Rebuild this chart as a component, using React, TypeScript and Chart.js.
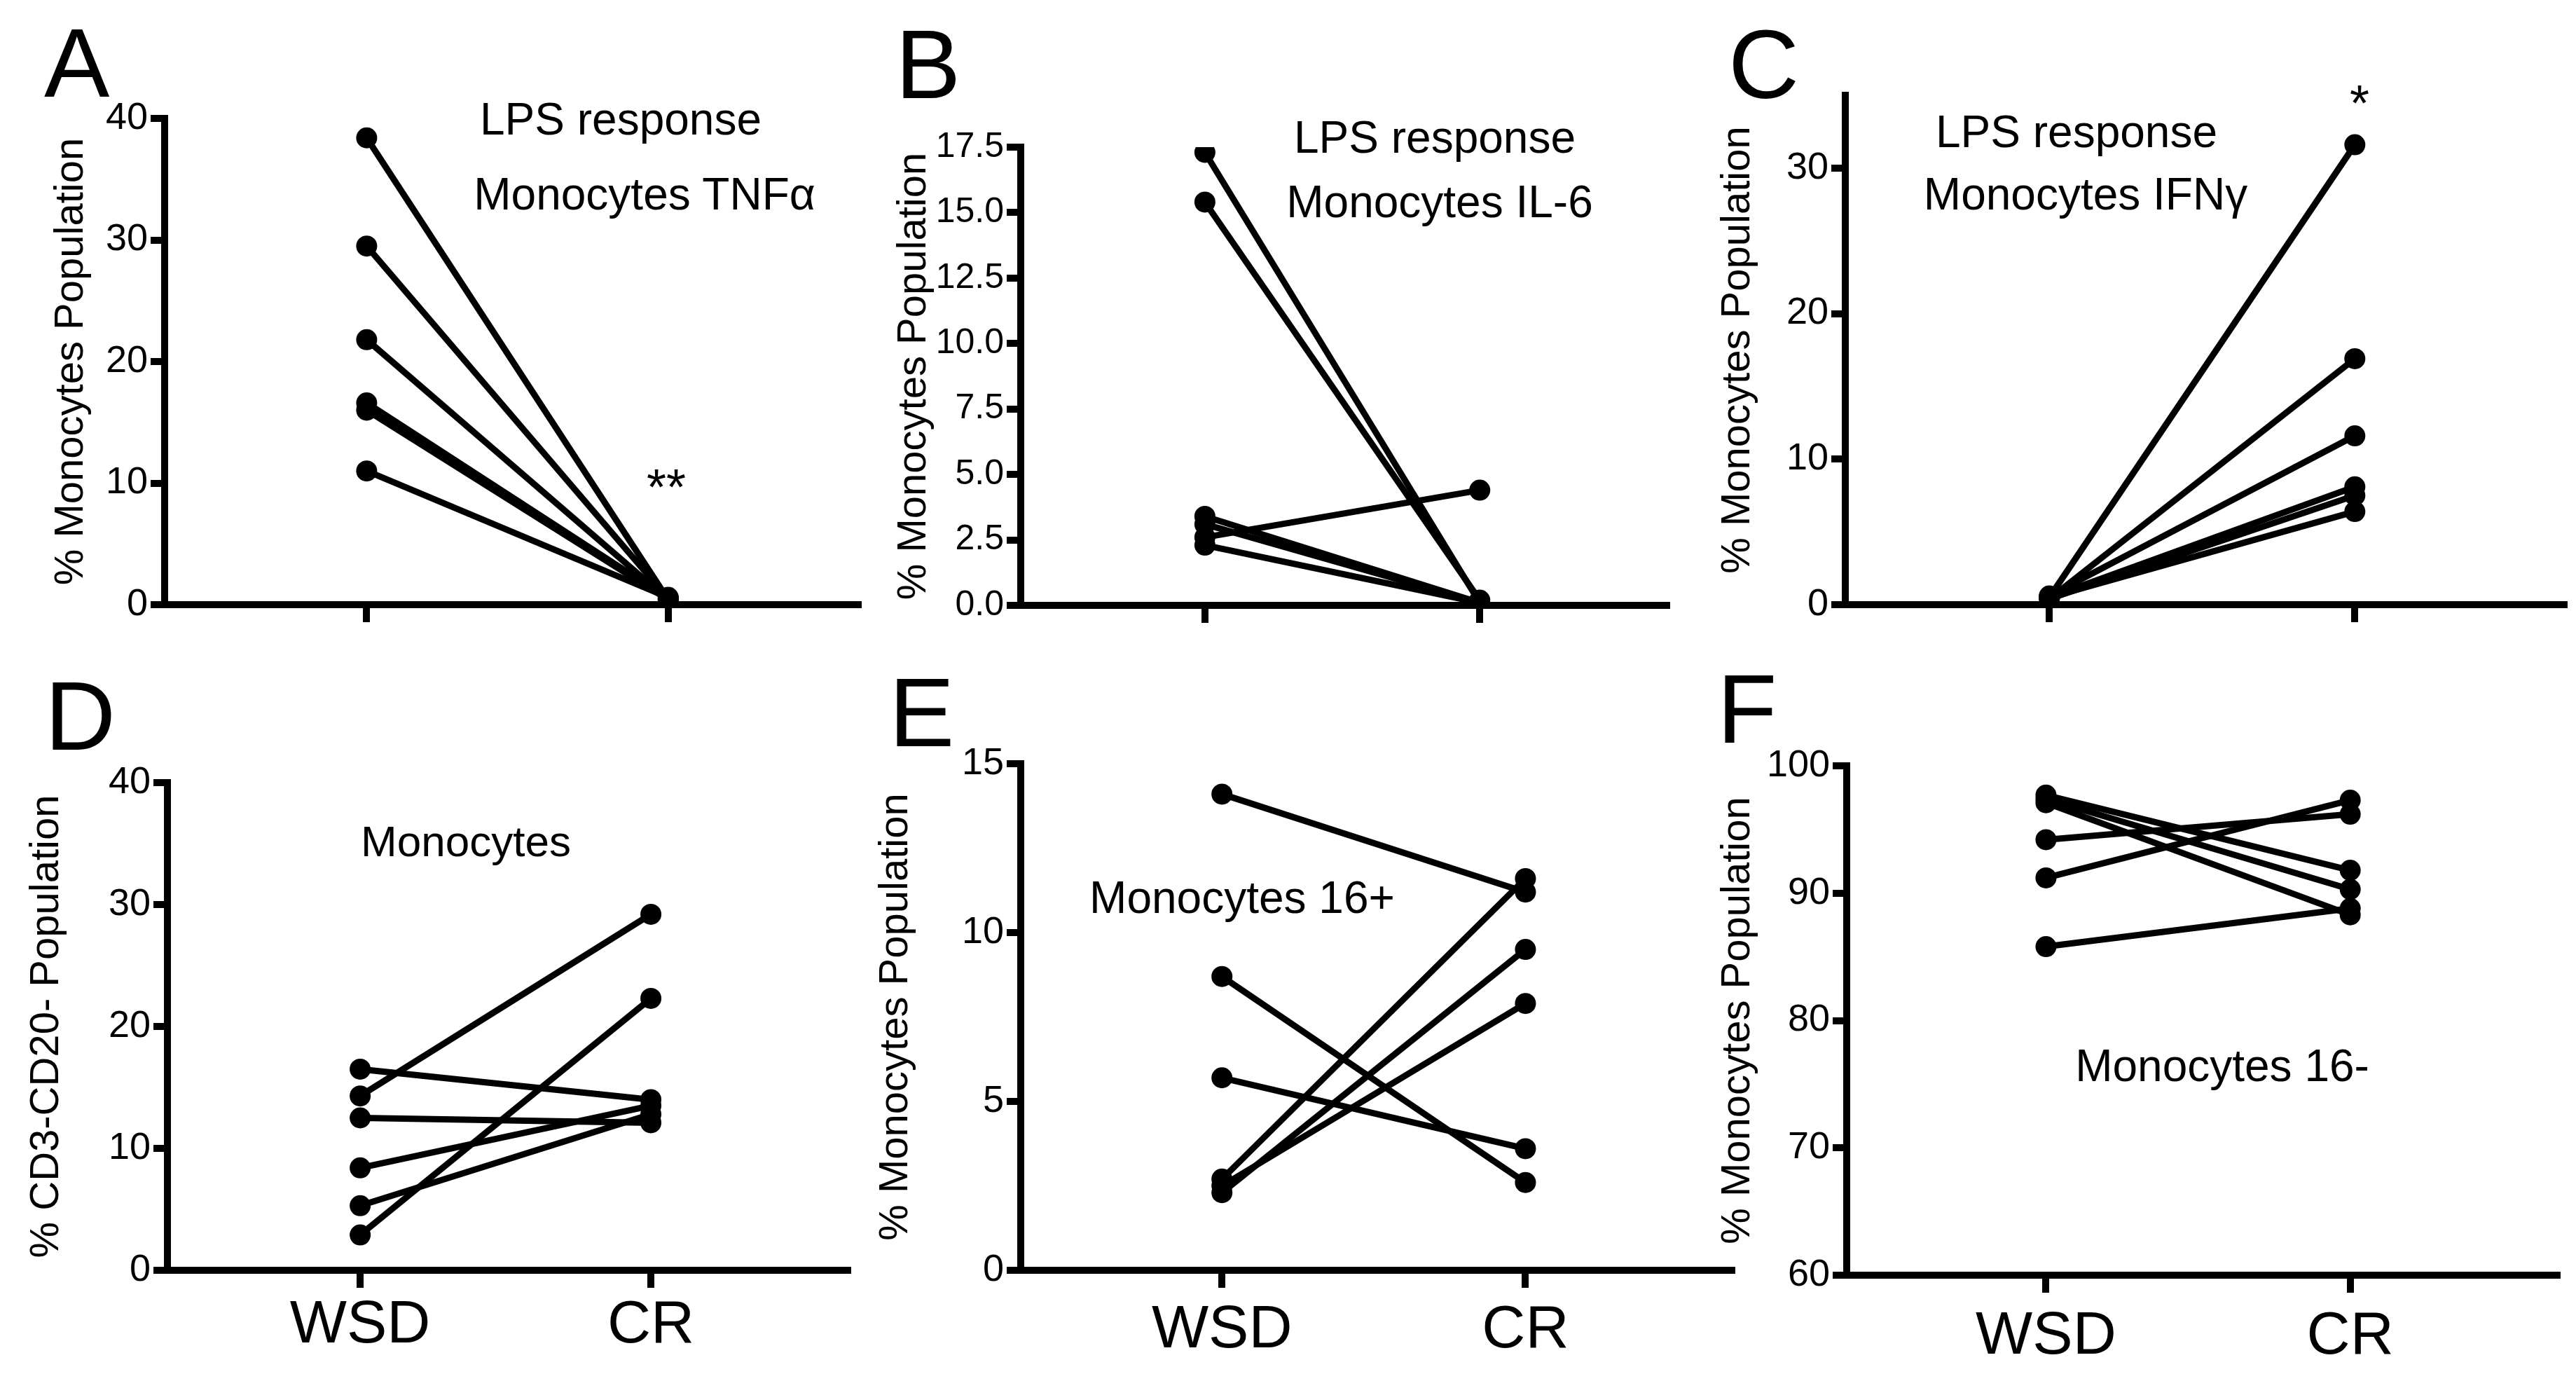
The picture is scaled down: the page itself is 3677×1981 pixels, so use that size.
import React, { useEffect, useRef } from 'react';
import { Chart, registerables } from 'chart.js';

Chart.register(...registerables);

// ---------- data ----------
const groups = ['WSD', 'CR'];

const tnfWSD = [38.4, 29.5, 21.8, 16.6, 16.0, 11.0];
const tnfCR = [0.4, 0.5, 0.4, 0.5, 0.4, 0.6];

const il6WSD = [17.3, 15.4, 3.4, 3.1, 2.6, 2.3];
const il6CR = [0.1, 0.2, 0.1, 0.1, 4.4, 0.1];

const ifnWSD = [0.5, 0.4, 0.6, 0.5, 0.4, 0.5];
const ifnCR = [31.6, 16.9, 11.6, 8.1, 7.5, 6.4];

const monoWSD = [16.5, 14.3, 12.5, 8.4, 5.3, 2.9];
const monoCR = [14.0, 29.2, 12.1, 13.5, 12.8, 22.3];

const mono16pWSD = [14.1, 8.7, 5.7, 2.7, 2.3, 2.5];
const mono16pCR = [11.2, 2.6, 3.6, 11.6, 9.5, 7.9];

const mono16nWSD = [97.7, 97.4, 97.1, 94.2, 91.2, 85.8];
const mono16nCR = [91.8, 90.3, 88.3, 96.2, 97.3, 88.8];

const ticksA = [0, 10, 20, 30, 40];
const ticksB = [0, 2.5, 5, 7.5, 10, 12.5, 15, 17.5];
const ticksC = [0, 10, 20, 30];
const ticksD = [0, 10, 20, 30, 40];
const ticksE = [0, 5, 10, 15];
const ticksF = [60, 70, 80, 90, 100];

const titleMono = '% Monocytes Population';
const titleCD = '% CD3-CD20- Population';

// ---------- styling / layout ----------
const SANS = "'Liberation Sans', Arial, Helvetica, sans-serif";
const NARROW = "'Liberation Sans Narrow', 'Arial Narrow', 'Liberation Sans', Arial, sans-serif";

type Note = { t: string; x: number; cap: number; size?: number };
type PanelCfg = {
  letter: string;
  letterX: number;
  letterCap: number;
  wsd: number[];
  cr: number[];
  yTicks: number[];
  yMin: number;
  yMax: number;
  dec: number;
  yTitle: string;
  showX: boolean;
  L: number; T: number; W: number; H: number;
  yw: number; xh: number; pt: number; pr: number;
  titlePad: number;
  xMin: number; xMax: number;
  xPad: number;
  tickSize: number;
  notes: Note[];
};

const panels: PanelCfg[] = [
  {
    letter: 'A', letterX: 63, letterCap: 38,
    wsd: tnfWSD, cr: tnfCR, yTicks: ticksA, yMin: 0, yMax: 40, dec: 0, yTitle: titleMono, showX: false,
    L: 40, T: 110, W: 1205, H: 803, yw: 195, xh: 50, pt: 59, pr: 20, titlePad: 27,
    xMin: -0.67, xMax: 1.63, xPad: 4, tickSize: 54,
    notes: [
      { t: 'LPS response', x: 886, cap: 146 },
      { t: 'Monocytes TNFα', x: 920, cap: 253 },
      { t: '**', x: 951, cap: 668, size: 72 },
    ],
  },
  {
    letter: 'B', letterX: 1278, letterCap: 40,
    wsd: il6WSD, cr: il6CR, yTicks: ticksB, yMin: 0, yMax: 17.5, dec: 1, yTitle: titleMono, showX: false,
    L: 1240, T: 110, W: 1159, H: 804, yw: 217, xh: 50, pt: 100, pr: 20, titlePad: 30,
    xMin: -0.67, xMax: 1.68, xPad: 4, tickSize: 50,
    notes: [
      { t: 'LPS response', x: 2048, cap: 172 },
      { t: 'Monocytes IL-6', x: 2055, cap: 264 },
    ],
  },
  {
    letter: 'C', letterX: 2467, letterCap: 40,
    wsd: ifnWSD, cr: ifnCR, yTicks: ticksC, yMin: 0, yMax: 35, dec: 0, yTitle: titleMono, showX: false,
    L: 2420, T: 80, W: 1255, H: 833, yw: 214, xh: 50, pt: 56, pr: 5, titlePad: 26,
    xMin: -0.668, xMax: 1.685, xPad: 4, tickSize: 54,
    notes: [
      { t: 'LPS response', x: 2964, cap: 164 },
      { t: 'Monocytes IFNγ', x: 2977, cap: 253 },
      { t: '*', x: 3368, cap: 120, size: 72 },
    ],
  },
  {
    letter: 'D', letterX: 64, letterCap: 970,
    wsd: monoWSD, cr: monoCR, yTicks: ticksD, yMin: 0, yMax: 40, dec: 0, yTitle: titleCD, showX: true,
    L: 20, T: 1060, W: 1210, H: 913, yw: 219, xh: 160, pt: 57, pr: 20, titlePad: 12,
    xMin: -0.663, xMax: 1.677, xPad: 3, tickSize: 54,
    notes: [{ t: 'Monocytes', x: 665, cap: 1178, size: 62 }],
  },
  {
    letter: 'E', letterX: 1269, letterCap: 965,
    wsd: mono16pWSD, cr: mono16pCR, yTicks: ticksE, yMin: 0, yMax: 15, dec: 0, yTitle: titleMono, showX: true,
    L: 1235, T: 1040, W: 1257, H: 933, yw: 222, xh: 160, pt: 50, pr: 20, titlePad: 9,
    xMin: -0.663, xMax: 1.68, xPad: 10, tickSize: 54,
    notes: [{ t: 'Monocytes 16+', x: 1773, cap: 1257 }],
  },
  {
    letter: 'F', letterX: 2451, letterCap: 960,
    wsd: mono16nWSD, cr: mono16nCR, yTicks: ticksF, yMin: 60, yMax: 100, dec: 0, yTitle: titleMono, showX: true,
    L: 2440, T: 1040, W: 1230, H: 935, yw: 196, xh: 155, pt: 53, pr: 20, titlePad: 6,
    xMin: -0.655, xMax: 1.68, xPad: 12, tickSize: 54,
    notes: [{ t: 'Monocytes 16-', x: 3172, cap: 1497 }],
  },
];

function Panel({ cfg }: { cfg: PanelCfg }) {
  const ref = useRef<HTMLCanvasElement | null>(null);

  useEffect(() => {
    if (!ref.current) return;
    const datasets = cfg.wsd.map((w, i) => ({
      data: [
        { x: 0, y: w },
        { x: 1, y: cfg.cr[i] },
      ],
      borderColor: '#000',
      backgroundColor: '#000',
      borderWidth: 9,
      pointRadius: 15,
      pointHoverRadius: 15,
      pointBackgroundColor: '#000',
      pointBorderColor: '#000',
      pointBorderWidth: 0,
      tension: 0,
      fill: false,
    }));

    const chart = new Chart(ref.current, {
      type: 'line',
      data: { datasets },
      options: {
        responsive: false,
        maintainAspectRatio: false,
        animation: false,
        devicePixelRatio: 1,
        events: [],
        layout: { padding: { top: cfg.pt, right: cfg.pr, left: 0, bottom: 0 } },
        plugins: { legend: { display: false }, tooltip: { enabled: false } },
        scales: {
          x: {
            type: 'linear',
            min: cfg.xMin,
            max: cfg.xMax,
            afterBuildTicks: (s: any) => {
              s.ticks = groups.map((_, i) => ({ value: i }));
            },
            afterFit: (s: any) => {
              s.height = cfg.xh;
            },
            ticks: {
              display: cfg.showX,
              autoSkip: false,
              maxRotation: 0,
              minRotation: 0,
              padding: cfg.xPad,
              color: '#000',
              font: { family: SANS, size: 86 },
              callback: (_v: any, i: number) => groups[i],
            },
            grid: {
              display: true,
              drawOnChartArea: false,
              drawTicks: true,
              tickLength: 25,
              lineWidth: 10,
              tickWidth: 10,
              color: '#000',
              tickColor: '#000',
            },
            border: { display: true, width: 10, color: '#000' },
          },
          y: {
            type: 'linear',
            min: cfg.yMin,
            max: cfg.yMax,
            afterBuildTicks: (s: any) => {
              s.ticks = cfg.yTicks.map((v) => ({ value: v }));
            },
            afterFit: (s: any) => {
              s.width = cfg.yw;
            },
            ticks: {
              autoSkip: false,
              padding: 4,
              color: '#000',
              font: { family: NARROW, size: cfg.tickSize },
              callback: (v: any) => Number(v).toFixed(cfg.dec),
            },
            grid: {
              display: true,
              drawOnChartArea: false,
              drawTicks: true,
              tickLength: 20,
              lineWidth: 10,
              tickWidth: 10,
              color: '#000',
              tickColor: '#000',
            },
            border: { display: true, width: 10, color: '#000' },
            title: {
              display: true,
              text: cfg.yTitle,
              color: '#000',
              font: { family: SANS, size: 58 },
              padding: { top: cfg.titlePad, bottom: 0 },
            },
          },
        },
      } as any,
    });
    return () => chart.destroy();
  }, [cfg]);

  return (
    <>
      <canvas
        ref={ref}
        width={cfg.W}
        height={cfg.H}
        style={{ position: 'absolute', left: cfg.L, top: cfg.T, width: cfg.W, height: cfg.H }}
      />
      <div
        style={{
          position: 'absolute',
          left: cfg.letterX,
          top: cfg.letterCap - 0.13 * 140,
          fontFamily: SANS,
          fontSize: 140,
          lineHeight: 1,
          color: '#000',
        }}
      >
        {cfg.letter}
      </div>
      {cfg.notes.map((n, i) => {
        const size = n.size ?? 64;
        return (
          <div
            key={i}
            style={{
              position: 'absolute',
              left: n.x,
              top: n.cap - 0.13 * size,
              transform: 'translateX(-50%)',
              fontFamily: SANS,
              fontSize: size,
              lineHeight: 1,
              whiteSpace: 'nowrap',
              color: '#000',
            }}
          >
            {n.t}
          </div>
        );
      })}
    </>
  );
}

export default function App() {
  return (
    <div
      style={{
        position: 'fixed',
        left: 0,
        top: 0,
        width: 3677,
        height: 1981,
        background: '#fff',
        overflow: 'hidden',
      }}
    >
      {panels.map((p) => (
        <Panel key={p.letter} cfg={p} />
      ))}
    </div>
  );
}
